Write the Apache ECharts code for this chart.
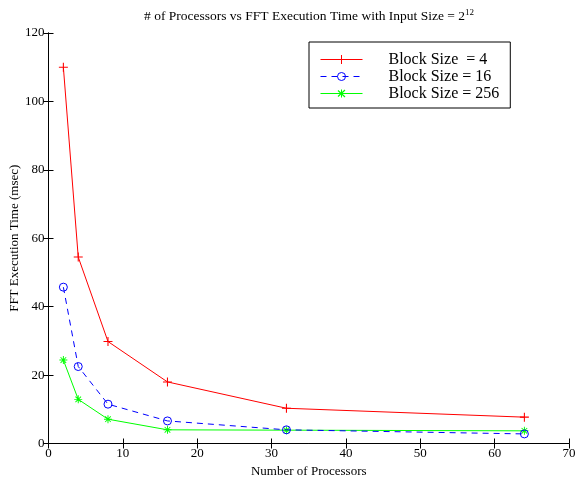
<!DOCTYPE html>
<html><head><meta charset="utf-8">
<script src="https://cdn.jsdelivr.net/npm/echarts@6/dist/echarts.min.js"></script>
<style>html,body{margin:0;padding:0;background:#fff}#c{width:575px;height:481px}</style>
</head><body><div id="c"></div>
<script>
const processors = [2, 4, 8, 16, 32, 64];
const block4 = [110, 54.5, 29.8, 18.0, 10.3, 7.7];
const block16 = [45.7, 22.5, 11.5, 6.6, 4.0, 2.8];
const block256 = [24.4, 12.9, 7.1, 4.0, 3.9, 3.7];
const seriesNames = ['Block Size  = 4', 'Block Size = 16', 'Block Size = 256'];
const seriesColors = ['#ff0000', '#0000ff', '#00ff00'];

const font = 'Liberation Serif';
const pair = (ys) => processors.map((x, i) => [x, ys[i]]);
const plusPath = 'path://M0,4.4 L10,4.4 L10,5.6 L0,5.6 Z M4.4,0 L5.6,0 L5.6,10 L4.4,10 Z';
const starPath = 'path://M0,4.4 L10,4.4 L10,5.6 L0,5.6 Z M4.4,0 L5.6,0 L5.6,10 L4.4,10 Z M1.9,1.1 L8.9,8.1 L8.1,8.9 L1.1,1.9 Z M1.1,8.1 L8.1,1.1 L8.9,1.9 L1.9,8.9 Z';
const circlePath = 'path://M10,5 A5,5 0 1,1 0,5 A5,5 0 1,1 10,5 Z';
// legend icons: line + marker as one filled shape (42 x 10 units)
const plusLegend = 'path://M0,4.5 L42,4.5 L42,5.5 L0,5.5 Z M20.5,0.5 L21.5,0.5 L21.5,9.5 L20.5,9.5 Z M0,0 L0.01,0 L0.01,0.01 Z M42,10 L41.99,10 L41.99,9.99 Z';
const starLegend = 'path://M0,4.5 L42,4.5 L42,5.5 L0,5.5 Z M20.5,1 L21.5,1 L21.5,9 L20.5,9 Z M17.9,1.6 L24.9,8.1 L24.1,8.9 L17.1,2.4 Z M17.1,7.6 L24.1,1.1 L24.9,1.9 L17.9,8.4 Z M0,0 L0.01,0 L0.01,0.01 Z M42,10 L41.99,10 L41.99,9.99 Z';

const chart = echarts.init(document.getElementById('c'), null, {renderer: 'canvas'});
const axisCommon = {
  min: 0,
  axisLine: {show: true, lineStyle: {color: '#000', width: 1}},
  axisTick: {show: true, inside: true, length: 5, lineStyle: {color: '#000'}},
  splitLine: {show: false}
};
chart.setOption({
  animation: false,
  backgroundColor: '#fff',
  title: {
    text: '# of Processors vs FFT Execution Time with Input Size = 2{sup|12}',
    left: 304, top: 3, textAlign: 'center',
    textStyle: {fontFamily: font, fontSize: 13.5, fontWeight: 'normal', color: '#000',
      rich: {sup: {fontFamily: font, fontSize: 9, verticalAlign: 'top', padding: [0,0,7,0], color: '#000'}}}
  },
  grid: {left: 48.5, right: 6, top: 33, bottom: 37.5, containLabel: false, outerBoundsMode: 'none'},
  legend: {
    orient: 'vertical', left: 309, top: 42,
    borderColor: '#000', borderWidth: 1, backgroundColor: '#fff',
    padding: [9, 11, 6, 11], itemGap: 0, itemWidth: 42, itemHeight: 10,
    symbolKeepAspect: false,
    textStyle: {fontFamily: font, fontSize: 16, lineHeight: 17, color: '#000', padding: [0, 0, 0, 21]},
    data: [
      {name: seriesNames[0], icon: plusLegend,
        itemStyle: {color: seriesColors[0], borderWidth: 0}},
      {name: seriesNames[1],
        lineStyle: {width: 1, color: seriesColors[1], type: [6, 5], opacity: 1},
        itemStyle: {color: 'none', borderColor: seriesColors[1], borderWidth: 1, borderType: 'solid'}},
      {name: seriesNames[2], icon: starLegend,
        itemStyle: {color: seriesColors[2], borderWidth: 0}}
    ]
  },
  xAxis: [
    Object.assign({}, axisCommon, {type: 'value', max: 70, interval: 10, position: 'bottom',
      name: 'Number of Processors', nameLocation: 'middle', nameGap: 22,
      nameTextStyle: {fontFamily: font, fontSize: 13, color: '#000'},
      axisLabel: {fontFamily: font, fontSize: 13, color: '#000', margin: 4}}),
    Object.assign({}, axisCommon, {type: 'value', max: 70, interval: 10, position: 'top',
      axisLabel: {show: false}})
  ],
  yAxis: [
    Object.assign({}, axisCommon, {type: 'value', max: 120, interval: 20, position: 'left',
      name: 'FFT Execution Time (msec)', nameLocation: 'middle', nameGap: 27, nameMoveOverlap: false,
      nameTextStyle: {fontFamily: font, fontSize: 13, color: '#000'},
      axisLabel: {fontFamily: font, fontSize: 13, color: '#000', margin: 4}}),
    Object.assign({}, axisCommon, {type: 'value', max: 120, interval: 20, position: 'right',
      axisLabel: {show: false}})
  ],
  series: [
    {name: seriesNames[0], type: 'line', data: pair(block4), color: seriesColors[0],
      lineStyle: {width: 1, color: seriesColors[0]}, symbol: plusPath, symbolSize: 9, symbolKeepAspect: true,
      itemStyle: {color: seriesColors[0], borderWidth: 0}, z: 3},
    {name: seriesNames[1], type: 'line', data: pair(block16), color: seriesColors[1],
      lineStyle: {width: 1, color: seriesColors[1], type: [6, 5]}, symbol: circlePath, symbolSize: 8, symbolKeepAspect: true,
      itemStyle: {color: 'none', borderColor: seriesColors[1], borderWidth: 1, borderType: 'solid', opacity: 1}, z: 4},
    {name: seriesNames[2], type: 'line', data: pair(block256), color: seriesColors[2],
      lineStyle: {width: 1, color: seriesColors[2]}, symbol: starPath, symbolSize: 8, symbolKeepAspect: true,
      itemStyle: {color: seriesColors[2], borderWidth: 0}, z: 2}
  ]
});
</script></body></html>
